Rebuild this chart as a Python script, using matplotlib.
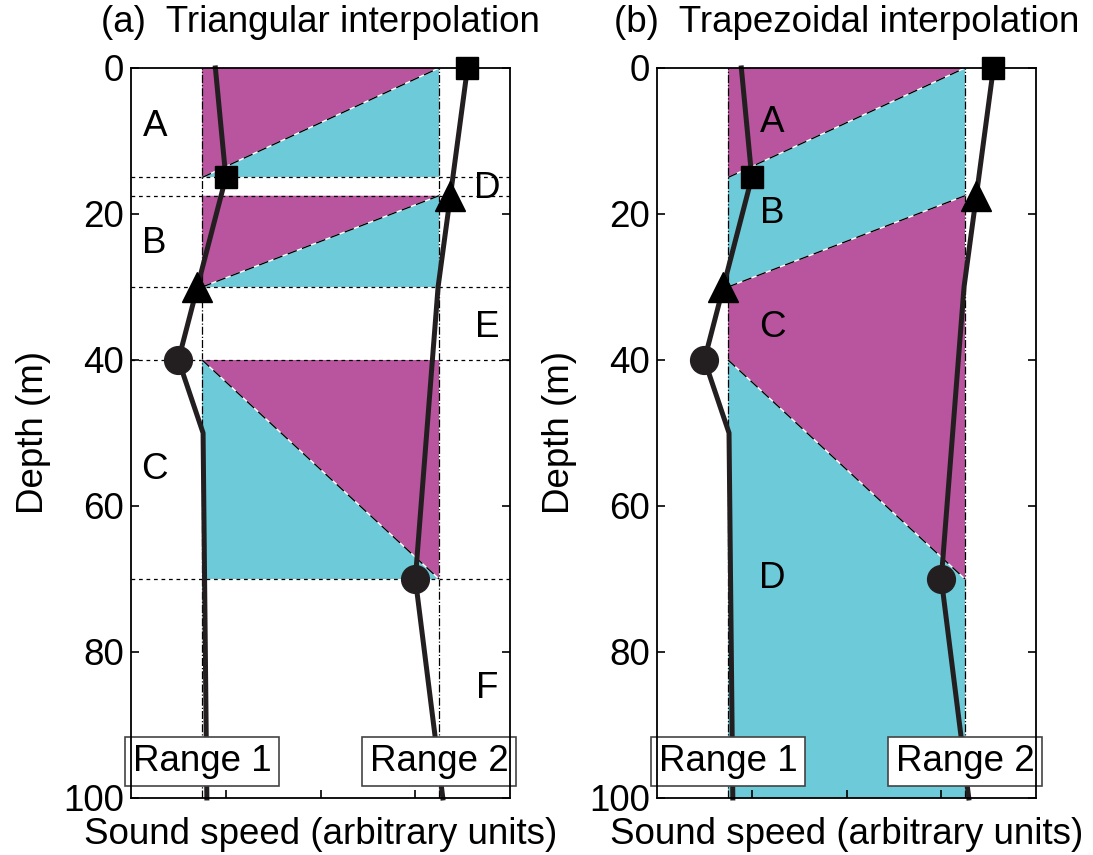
import matplotlib.pyplot as plt

plt.rcParams['font.family'] = ['Liberation Sans', 'DejaVu Sans']

MAGENTA = '#b9549e'
CYAN = '#6dcad9'
INK = '#231f20'
FS = 26.5

# Sound speed profiles at the two ranges (depth in m, speed in arbitrary units)
r1_depth = [0, 15, 30, 40, 50, 100]
r1_speed = [0.89, 1.0, 0.70, 0.50, 0.76, 0.80]
r2_depth = [0, 17.5, 30, 70, 100]
r2_speed = [3.55, 3.37, 3.24, 3.00, 3.29]

# Marker positions (layer interfaces)
r1_marks = {'s': (1.0, 15), '^': (0.70, 30), 'o': (0.50, 40)}
r2_marks = {'s': (3.55, 0), '^': (3.37, 17.5), 'o': (3.00, 70)}

x_r1, x_r2 = 0.75, 3.25
interfaces_a = [15, 17.5, 30, 40, 70]

# Layer labels: (text, x, depth)
labels_a = [('A', 0.25, 8), ('B', 0.25, 24), ('C', 0.25, 55),
            ('D', 3.76, 16.5), ('E', 3.76, 35.5), ('F', 3.76, 85)]
labels_b = [('A', 1.22, 7.5), ('B', 1.22, 20), ('C', 1.22, 35.5), ('D', 1.22, 70)]

fig = plt.figure(figsize=(10.93, 8.55), dpi=100)
ax_a = fig.add_axes([0.1199, 0.0667, 0.3468, 0.8538])
ax_b = fig.add_axes([0.6011, 0.0667, 0.3468, 0.8538])


def diag(ax, p, q):
    xs, ys = zip(p, q)
    ax.plot(xs, ys, color='white', lw=1.0, zorder=3)
    ax.plot(xs, ys, color='black', lw=1.0, ls=(0, (7, 4)), zorder=3)


# (a) triangular interpolation: each layer split into two triangles
for top, bot in [(0, 15), (17.5, 30)]:
    ax_a.fill([x_r1, x_r2, x_r1], [top, top, bot], color=MAGENTA, lw=0, zorder=1)
    ax_a.fill([x_r2, x_r2, x_r1], [top, bot, bot], color=CYAN, lw=0, zorder=1)
    diag(ax_a, (x_r1, bot), (x_r2, top))
ax_a.fill([x_r1, x_r2, x_r2], [40, 40, 70], color=MAGENTA, lw=0, zorder=1)
ax_a.fill([x_r1, x_r1, x_r2], [40, 70, 70], color=CYAN, lw=0, zorder=1)
diag(ax_a, (x_r1, 40), (x_r2, 70))
for d in interfaces_a:
    ax_a.axhline(d, color='black', lw=0.9, ls=(0, (3, 3)), zorder=2)

# (b) trapezoidal interpolation: layers follow sloping interfaces
ax_b.fill([x_r1, x_r2, x_r1], [0, 0, 15], color=MAGENTA, lw=0, zorder=1)
ax_b.fill([x_r1, x_r2, x_r2, x_r1], [15, 0, 17.5, 30], color=CYAN, lw=0, zorder=1)
ax_b.fill([x_r1, x_r2, x_r2, x_r1], [30, 17.5, 70, 40], color=MAGENTA, lw=0, zorder=1)
ax_b.fill([x_r1, x_r2, x_r2, x_r1], [40, 70, 100, 100], color=CYAN, lw=0, zorder=1)
diag(ax_b, (x_r1, 15), (x_r2, 0))
diag(ax_b, (x_r1, 30), (x_r2, 17.5))
diag(ax_b, (x_r1, 40), (x_r2, 70))

panels = [(ax_a, '(a)  Triangular interpolation', labels_a),
          (ax_b, '(b)  Trapezoidal interpolation', labels_b)]
for ax, title, labels in panels:
    for xv in (x_r1, x_r2):
        ax.axvline(xv, color='black', lw=0.9, ls='-.', zorder=2)
    ax.plot(r1_speed, r1_depth, color=INK, lw=3.6, zorder=4, clip_on=False)
    ax.plot(r2_speed, r2_depth, color=INK, lw=3.6, zorder=4, clip_on=False)
    for marks in (r1_marks, r2_marks):
        for m, (xv, d) in marks.items():
            size = {'s': 15.5, '^': 22, 'o': 20}[m]
            face = 'black' if m != 'o' else INK
            ax.plot(xv, d, marker=m, ms=size, color=face, mec=face,
                    zorder=5, clip_on=False)
    for txt, xv, d in labels:
        ax.text(xv, d, txt, fontsize=FS, ha='center', va='center', zorder=6)
    box = dict(boxstyle='square,pad=0.2', fc='white', ec='#444444', lw=1.2)
    ax.text(x_r1, 95.0, 'Range 1', fontsize=FS, ha='center', va='center',
            bbox=box, zorder=7, clip_on=False)
    ax.text(x_r2, 95.0, 'Range 2', fontsize=FS, ha='center', va='center',
            bbox=box, zorder=7, clip_on=False)

    ax.set_xlim(0, 4)
    ax.set_ylim(100, 0)
    ax.set_xticks([1, 2, 3])
    ax.set_xticklabels([])
    ax.set_yticks(range(0, 101, 20))
    ax.tick_params(axis='both', direction='in', length=6, width=1.2,
                   labelsize=FS, pad=5)
    ax.tick_params(axis='y', right=True)
    for sp in ax.spines.values():
        sp.set_linewidth(1.3)
        sp.set_zorder(8)
    ax.set_xlabel('Sound speed (arbitrary units)', fontsize=FS)
    ax.xaxis.set_label_coords(0.5, -0.026)
    ax.set_ylabel('Depth (m)', fontsize=FS)
    ax.yaxis.set_label_coords(-0.21, 0.5)
    ax.set_title(title, fontsize=FS, pad=26)

fig.savefig('out.png', dpi=100)
